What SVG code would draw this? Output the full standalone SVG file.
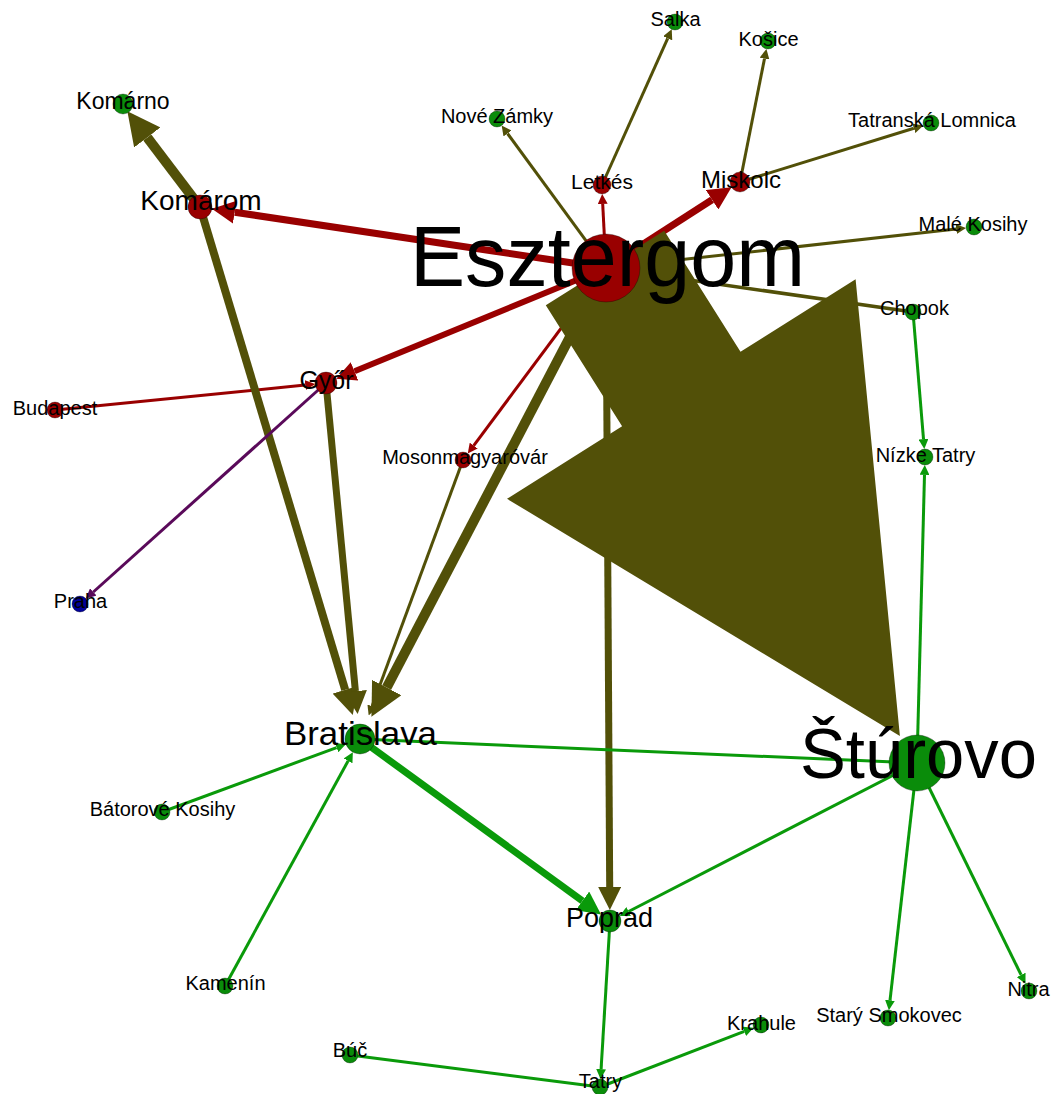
<svg xmlns="http://www.w3.org/2000/svg" width="1056" height="1094" viewBox="0 0 1056 1094">
<style>
.e{fill:none;stroke-linecap:butt}
.r{stroke:#990000}
.o{stroke:#525008}
.g{stroke:#0a9a0a}
.p{stroke:#5a0a5a}
.n{stroke:#000;stroke-opacity:0.3;stroke-width:1}
.nr{fill:#990000}
.ng{fill:#0a8c0a}
.nb{fill:#000099}
text{font-family:"Liberation Sans",Arial,sans-serif;fill:#000;text-anchor:middle}
.s{font-size:20px}
</style>
<defs>
<marker id="ar" viewBox="0 0 10 10" refX="0" refY="5" markerWidth="3.3" markerHeight="3.3" orient="auto"><path d="M0,0L10,5L0,10z" fill="#990000"/></marker>
<marker id="ao" viewBox="0 0 10 10" refX="0" refY="5" markerWidth="3.3" markerHeight="3.3" orient="auto"><path d="M0,0L10,5L0,10z" fill="#525008"/></marker>
<marker id="ag" viewBox="0 0 10 10" refX="0" refY="5" markerWidth="3.3" markerHeight="3.3" orient="auto"><path d="M0,0L10,5L0,10z" fill="#0a9a0a"/></marker>
<marker id="ap" viewBox="0 0 10 10" refX="0" refY="5" markerWidth="3.3" markerHeight="3.3" orient="auto"><path d="M0,0L10,5L0,10z" fill="#5a0a5a"/></marker>
</defs>
<g id="connectors">
<path class="e r" stroke-width="7" marker-end="url(#ar)" d="M606,268L234.7,212.2"/>
<path class="e r" stroke-width="7" marker-end="url(#ar)" d="M606,268L712.1,199.8"/>
<path class="e r" stroke-width="3" marker-end="url(#ar)" d="M606,268L602.7,203.9"/>
<path class="e r" stroke-width="6" marker-end="url(#ar)" d="M606,268L354.5,371.3"/>
<path class="e r" stroke-width="3" marker-end="url(#ar)" d="M606,268L473.7,445.6"/>
<path class="e r" stroke-width="3" marker-end="url(#ar)" d="M55,410L305.2,385.1"/>
<path class="e o" stroke-width="8" marker-end="url(#ao)" d="M200,207L345.2,689.8"/>
<path class="e p" stroke-width="3" marker-end="url(#ap)" d="M326,383L93.3,592"/>
<path class="e o" stroke-width="3" marker-end="url(#ao)" d="M606,268L507.5,133.5"/>
<path class="e o" stroke-width="3" marker-end="url(#ao)" d="M602,185L667.7,38.3"/>
<path class="e o" stroke-width="3" marker-end="url(#ao)" d="M740,182L764.5,58.6"/>
<path class="e o" stroke-width="3" marker-end="url(#ao)" d="M740,182L913.9,128.3"/>
<path class="e o" stroke-width="3" marker-end="url(#ao)" d="M606,268L956.2,229"/>
<path class="e o" stroke-width="3.5" d="M606,268L913,312"/>
<path class="e o" stroke-width="10" marker-end="url(#ao)" d="M200,207L147.3,137.5"/>
<path class="e o" stroke-width="7" marker-end="url(#ao)" d="M326,383L355.4,691.1"/>
<path class="e o" stroke-width="3" marker-end="url(#ao)" d="M463,460L372.1,706.2"/>
<path class="e o" stroke-width="10" marker-end="url(#ao)" d="M606,268L386.7,687.5"/>
<path class="e o" stroke-width="7" marker-end="url(#ao)" d="M606,268L609.7,886.9"/>
<path fill="#525008" d="M545.8,305.3L664.2,230.7L740.5,351.7L855.6,279.2L899.9,735.9L507,498.8L622.1,426.3Z"/>
<path class="e g" stroke-width="3" marker-end="url(#ag)" d="M913,312L923.5,439.1"/>
<path class="e g" stroke-width="3" marker-end="url(#ag)" d="M917,763L924.5,474.9"/>
<path class="e g" stroke-width="3" d="M360,739L917,763"/>
<path class="e g" stroke-width="3" marker-end="url(#ag)" d="M162,812L336.6,747.6"/>
<path class="e g" stroke-width="3" marker-end="url(#ag)" d="M225,986L348.1,760.9"/>
<path class="e g" stroke-width="7" marker-end="url(#ag)" d="M360,739L582.4,900.9"/>
<path class="e g" stroke-width="3" marker-end="url(#ag)" d="M917,763L628.6,911.5"/>
<path class="e g" stroke-width="3" marker-end="url(#ag)" d="M610,921L601.1,1069.1"/>
<path class="e g" stroke-width="3" d="M350,1055L600,1087"/>
<path class="e g" stroke-width="3" marker-end="url(#ag)" d="M600,1087L744.3,1031.4"/>
<path class="e g" stroke-width="3" marker-end="url(#ag)" d="M917,763L890,1000.3"/>
<path class="e g" stroke-width="3" marker-end="url(#ag)" d="M917,763L1021.1,974.9"/>
</g>
<g id="esztergom"><circle class="n nr" cx="606" cy="268" r="34"/><text x="607.5" y="286" font-size="86" textLength="395" lengthAdjust="spacingAndGlyphs">Esztergom</text></g>
<g id="sturovo"><circle class="n ng" cx="917" cy="763" r="28"/><text x="918.5" y="778" font-size="70" textLength="237" lengthAdjust="spacingAndGlyphs">Štúrovo</text></g>
<g id="bratislava"><circle class="n ng" cx="360" cy="739" r="15"/><text x="360.5" y="745" font-size="34" textLength="153" lengthAdjust="spacingAndGlyphs">Bratislava</text></g>
<g id="poprad"><circle class="n ng" cx="610" cy="921" r="11"/><text x="609.5" y="927" font-size="27">Poprad</text></g>
<g id="komarom"><circle class="n nr" cx="200" cy="207" r="12"/><text x="201" y="210" font-size="28">Komárom</text></g>
<g id="komarno"><circle class="n ng" cx="123" cy="104" r="10"/><text x="123" y="109" font-size="23">Komárno</text></g>
<g id="gyor"><circle class="n nr" cx="326" cy="383" r="11"/><text x="326.5" y="389" font-size="25">Győr</text></g>
<g id="miskolc"><circle class="n nr" cx="740" cy="182" r="10"/><text x="741" y="188" font-size="24">Miskolc</text></g>
<g id="letkes"><circle class="n nr" cx="602" cy="185" r="9"/><text x="602" y="189" font-size="21">Letkés</text></g>
<g id="budapest"><circle class="n nr" cx="55" cy="410" r="8"/><text class="s" x="55" y="415">Budapest</text></g>
<g id="mosonmagyarovar"><circle class="n nr" cx="463" cy="460" r="8"/><text class="s" x="465" y="464">Mosonmagyaróvár</text></g>
<g id="praha"><circle class="n nb" cx="80" cy="604" r="8"/><text class="s" x="80.5" y="608">Praha</text></g>
<g id="nove-zamky"><circle class="n ng" cx="497" cy="119" r="8"/><text class="s" x="497" y="123">Nové Zámky</text></g>
<g id="salka"><circle class="n ng" cx="675" cy="22" r="8"/><text class="s" x="675.5" y="26">Salka</text></g>
<g id="kosice"><circle class="n ng" cx="768" cy="41" r="8"/><text class="s" x="768.5" y="46">Košice</text></g>
<g id="tatranska-lomnica"><circle class="n ng" cx="931" cy="123" r="8"/><text class="s" x="932" y="127">Tatranská Lomnica</text></g>
<g id="male-kosihy"><circle class="n ng" cx="974" cy="227" r="8"/><text class="s" x="973" y="231">Malé Kosihy</text></g>
<g id="chopok"><circle class="n ng" cx="913" cy="312" r="8"/><text class="s" x="914.5" y="315">Chopok</text></g>
<g id="nizke-tatry"><circle class="n ng" cx="925" cy="457" r="8"/><text class="s" x="925.5" y="462">Nízke Tatry</text></g>
<g id="batorove-kosihy"><circle class="n ng" cx="162" cy="812" r="8"/><text class="s" x="162.5" y="816">Bátorové Kosihy</text></g>
<g id="kamenin"><circle class="n ng" cx="225" cy="986" r="8"/><text class="s" x="225.5" y="990">Kamenín</text></g>
<g id="buc"><circle class="n ng" cx="350" cy="1055" r="8"/><text class="s" x="350" y="1057">Búč</text></g>
<g id="tatry"><circle class="n ng" cx="600" cy="1087" r="8"/><text class="s" x="600.5" y="1088">Tatry</text></g>
<g id="krahule"><circle class="n ng" cx="761" cy="1025" r="8"/><text class="s" x="761.5" y="1030">Krahule</text></g>
<g id="stary-smokovec"><circle class="n ng" cx="888" cy="1018" r="8"/><text class="s" x="889" y="1022">Starý Smokovec</text></g>
<g id="nitra"><circle class="n ng" cx="1029" cy="991" r="8"/><text class="s" x="1028.5" y="996">Nitra</text></g>
</svg>
